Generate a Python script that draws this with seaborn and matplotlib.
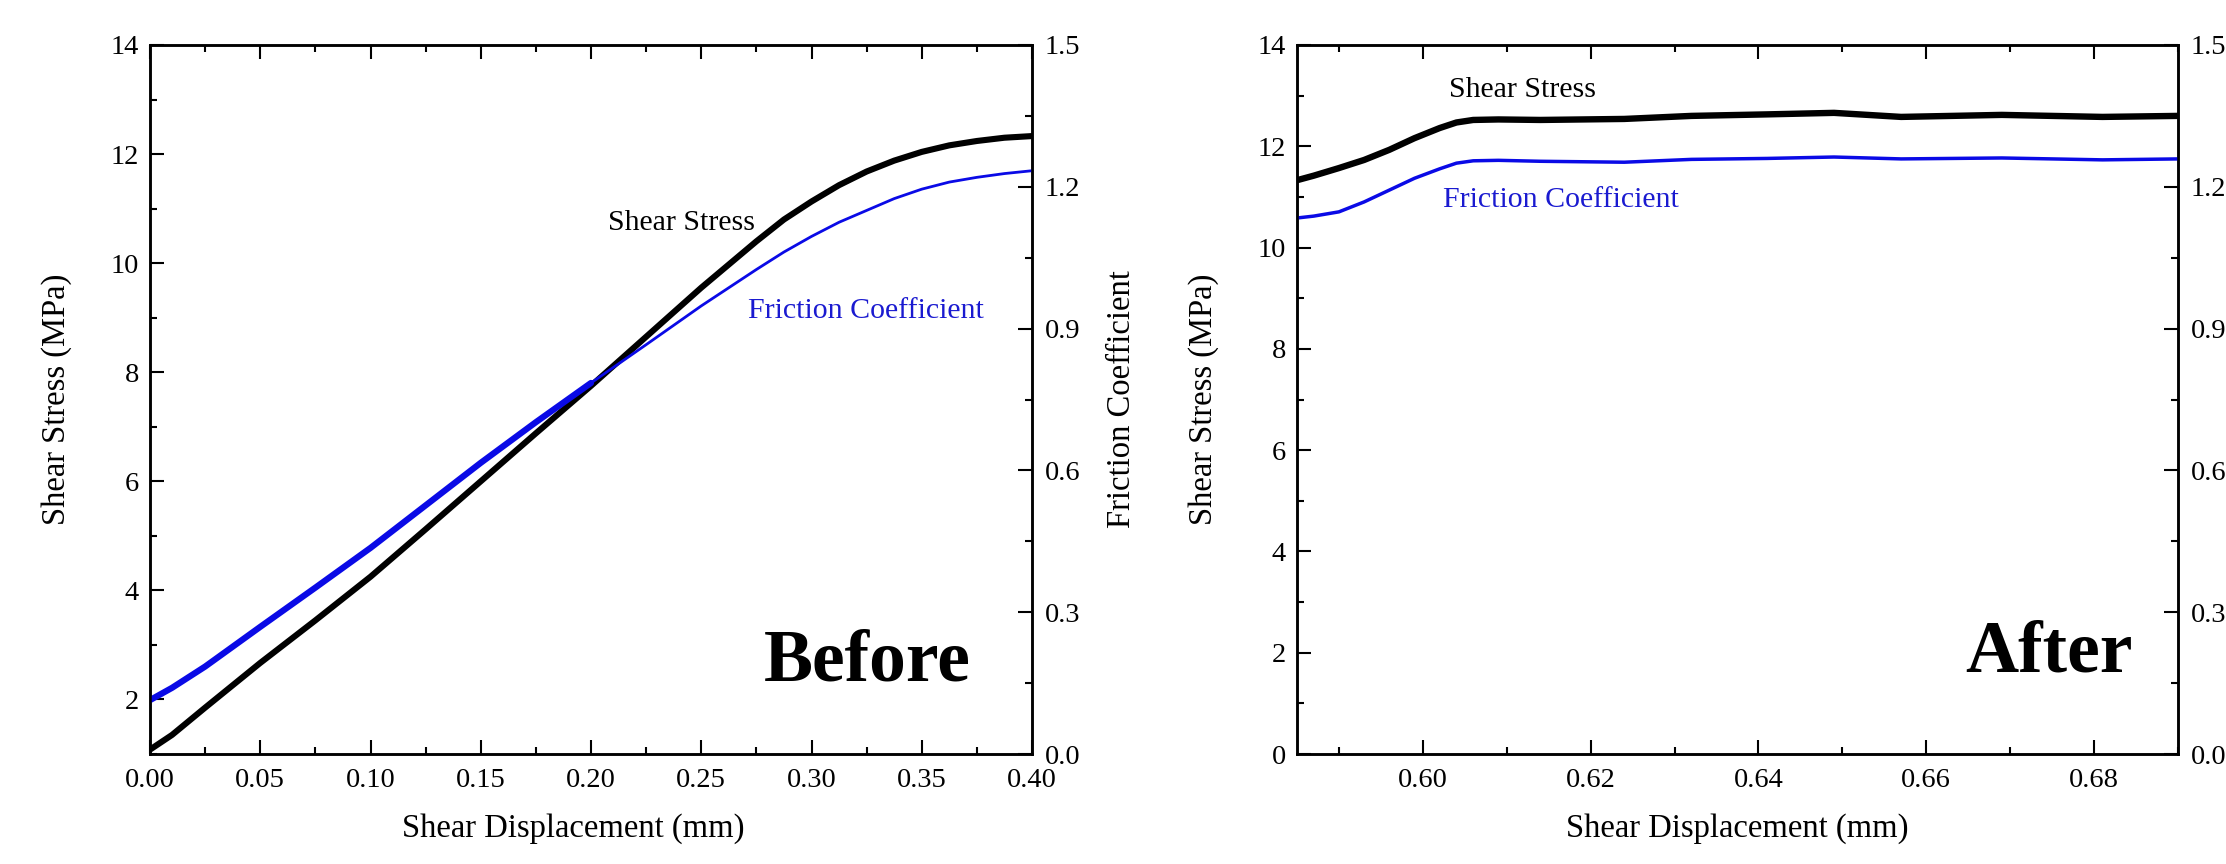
import numpy as np
import seaborn as sns
import matplotlib.pyplot as plt
from matplotlib.ticker import MultipleLocator

# before shearing test (left panel)
before_disp = [0.000, 0.010, 0.025, 0.050, 0.075, 0.100, 0.125, 0.150, 0.175,
               0.200, 0.225, 0.250, 0.275, 0.2875, 0.300, 0.3125, 0.325, 0.3375,
               0.350, 0.3625, 0.375, 0.3875, 0.400]
before_stress = [1.08, 1.35, 1.85, 2.67, 3.45, 4.25, 5.12, 6.00, 6.88,
                 7.75, 8.65, 9.55, 10.40, 10.80, 11.13, 11.43, 11.68, 11.88,
                 12.04, 12.16, 12.24, 12.30, 12.33]
before_friction = [0.114, 0.140, 0.185, 0.269, 0.352, 0.436, 0.526, 0.616, 0.702,
                   0.785, 0.866, 0.948, 1.025, 1.062, 1.095, 1.125, 1.150, 1.175,
                   1.195, 1.210, 1.220, 1.228, 1.234]

# after (right panel)
after_disp = [0.585, 0.587, 0.590, 0.593, 0.596, 0.599, 0.602, 0.604, 0.606,
              0.609, 0.614, 0.624, 0.632, 0.641, 0.649, 0.657, 0.669, 0.681, 0.690]
after_stress = [11.33, 11.42, 11.57, 11.73, 11.93, 12.16, 12.36, 12.47, 12.52,
                12.53, 12.52, 12.54, 12.60, 12.63, 12.66, 12.58, 12.62, 12.58, 12.60]
after_friction = [1.134, 1.138, 1.147, 1.168, 1.193, 1.218, 1.238, 1.250, 1.255,
                  1.256, 1.254, 1.252, 1.258, 1.260, 1.263, 1.259, 1.261, 1.257, 1.259]

sns.set_style("ticks")
plt.rcParams['font.family'] = ['Liberation Serif', 'DejaVu Serif']
plt.rcParams['text.color'] = 'black'
plt.rcParams['axes.labelcolor'] = 'black'
plt.rcParams['xtick.color'] = 'black'
plt.rcParams['ytick.color'] = 'black'

BLUE_LINE = "#0a0ae6"
BLUE_TEXT = "#1a1ad0"
TICK_FS = 20.5
LABEL_FS = 23.5


def style_axes(ax, ax2, xmaj, xmin):
    for a in (ax, ax2):
        for s in a.spines.values():
            s.set_linewidth(1.8)
            s.set_color("black")
    ax.xaxis.set_major_locator(MultipleLocator(xmaj))
    ax.xaxis.set_minor_locator(MultipleLocator(xmin))
    ax.yaxis.set_major_locator(MultipleLocator(2))
    ax.yaxis.set_minor_locator(MultipleLocator(1))
    ax2.yaxis.set_major_locator(MultipleLocator(0.3))
    ax2.yaxis.set_minor_locator(MultipleLocator(0.15))
    ax.tick_params(which='both', direction='in', top=True, right=False,
                   width=1.5, labelsize=TICK_FS, color='black')
    ax.tick_params(which='major', length=10)
    ax.tick_params(which='minor', length=5)
    ax.tick_params(axis='y', pad=8)
    ax.tick_params(axis='x', pad=10)
    ax2.tick_params(which='both', direction='in', right=True, left=False,
                    width=1.5, labelsize=TICK_FS, pad=9)
    ax2.tick_params(which='major', length=10)
    ax2.tick_params(which='minor', length=5)
    ax2.set_ylim(0, 1.5)
    ax2.yaxis.set_major_formatter(plt.FormatStrFormatter('%.1f'))


fig = plt.figure(figsize=(22.26, 8.64), dpi=100)
axL = fig.add_axes([150 / 2226, 110 / 864, 882 / 2226, 709 / 864])
axR = fig.add_axes([1297 / 2226, 110 / 864, 881 / 2226, 709 / 864])

# ---- left panel
axL2 = axL.twinx()
sns.lineplot(x=before_disp, y=before_stress, ax=axL, color='black', linewidth=4.4)
bd = np.array(before_disp)
bf = np.array(before_friction)
m = bd <= 0.2
sns.lineplot(x=bd[m], y=bf[m], ax=axL2, color=BLUE_LINE, linewidth=4.5)
sns.lineplot(x=bd[bd >= 0.2], y=bf[bd >= 0.2], ax=axL2, color=BLUE_LINE, linewidth=2.0)
axL.set_xlim(0, 0.4)
axL.set_ylim(1, 14)
axL.xaxis.set_major_formatter(plt.FormatStrFormatter('%.2f'))
style_axes(axL, axL2, 0.05, 0.025)
axL.set_xlabel("Shear Displacement (mm)", fontsize=LABEL_FS)
axL.set_ylabel("Shear Stress (MPa)", fontsize=LABEL_FS)
axL2.set_ylabel("Friction Coefficient", fontsize=LABEL_FS)
axL.xaxis.set_label_coords(0.48, -0.083)
axL.yaxis.set_label_coords(-0.088, 0.5)
axL2.yaxis.set_label_coords(1.085, 0.5)
axL.text(0.519, 0.739, "Shear Stress", transform=axL.transAxes, fontsize=21.5,
         ha='left', va='baseline', color='black')
axL.text(0.678, 0.615, "Friction Coefficient", transform=axL.transAxes, fontsize=21.5,
         ha='left', va='baseline', color=BLUE_TEXT)
axL.text(0.93, 0.104, "Before", transform=axL.transAxes, fontsize=53,
         fontweight='bold', ha='right', va='baseline', color='black')

# ---- right panel
axR2 = axR.twinx()
sns.lineplot(x=after_disp, y=after_stress, ax=axR, color='black', linewidth=4.6)
sns.lineplot(x=after_disp, y=after_friction, ax=axR2, color=BLUE_LINE, linewidth=2.5)
axR.set_xlim(0.585, 0.69)
axR.set_ylim(0, 14)
axR.xaxis.set_major_formatter(plt.FormatStrFormatter('%.2f'))
style_axes(axR, axR2, 0.02, 0.01)
axR.set_xlabel("Shear Displacement (mm)", fontsize=LABEL_FS)
axR.set_ylabel("Shear Stress (MPa)", fontsize=LABEL_FS)
axR.xaxis.set_label_coords(0.5, -0.083)
axR.yaxis.set_label_coords(-0.088, 0.5)
axR.text(0.173, 0.927, "Shear Stress", transform=axR.transAxes, fontsize=21.5,
         ha='left', va='baseline', color='black')
axR.text(0.166, 0.771, "Friction Coefficient", transform=axR.transAxes, fontsize=21.5,
         ha='left', va='baseline', color=BLUE_TEXT)
axR.text(0.949, 0.116, "After", transform=axR.transAxes, fontsize=53,
         fontweight='bold', ha='right', va='baseline', color='black')

fig.savefig("out.png", dpi=100)
